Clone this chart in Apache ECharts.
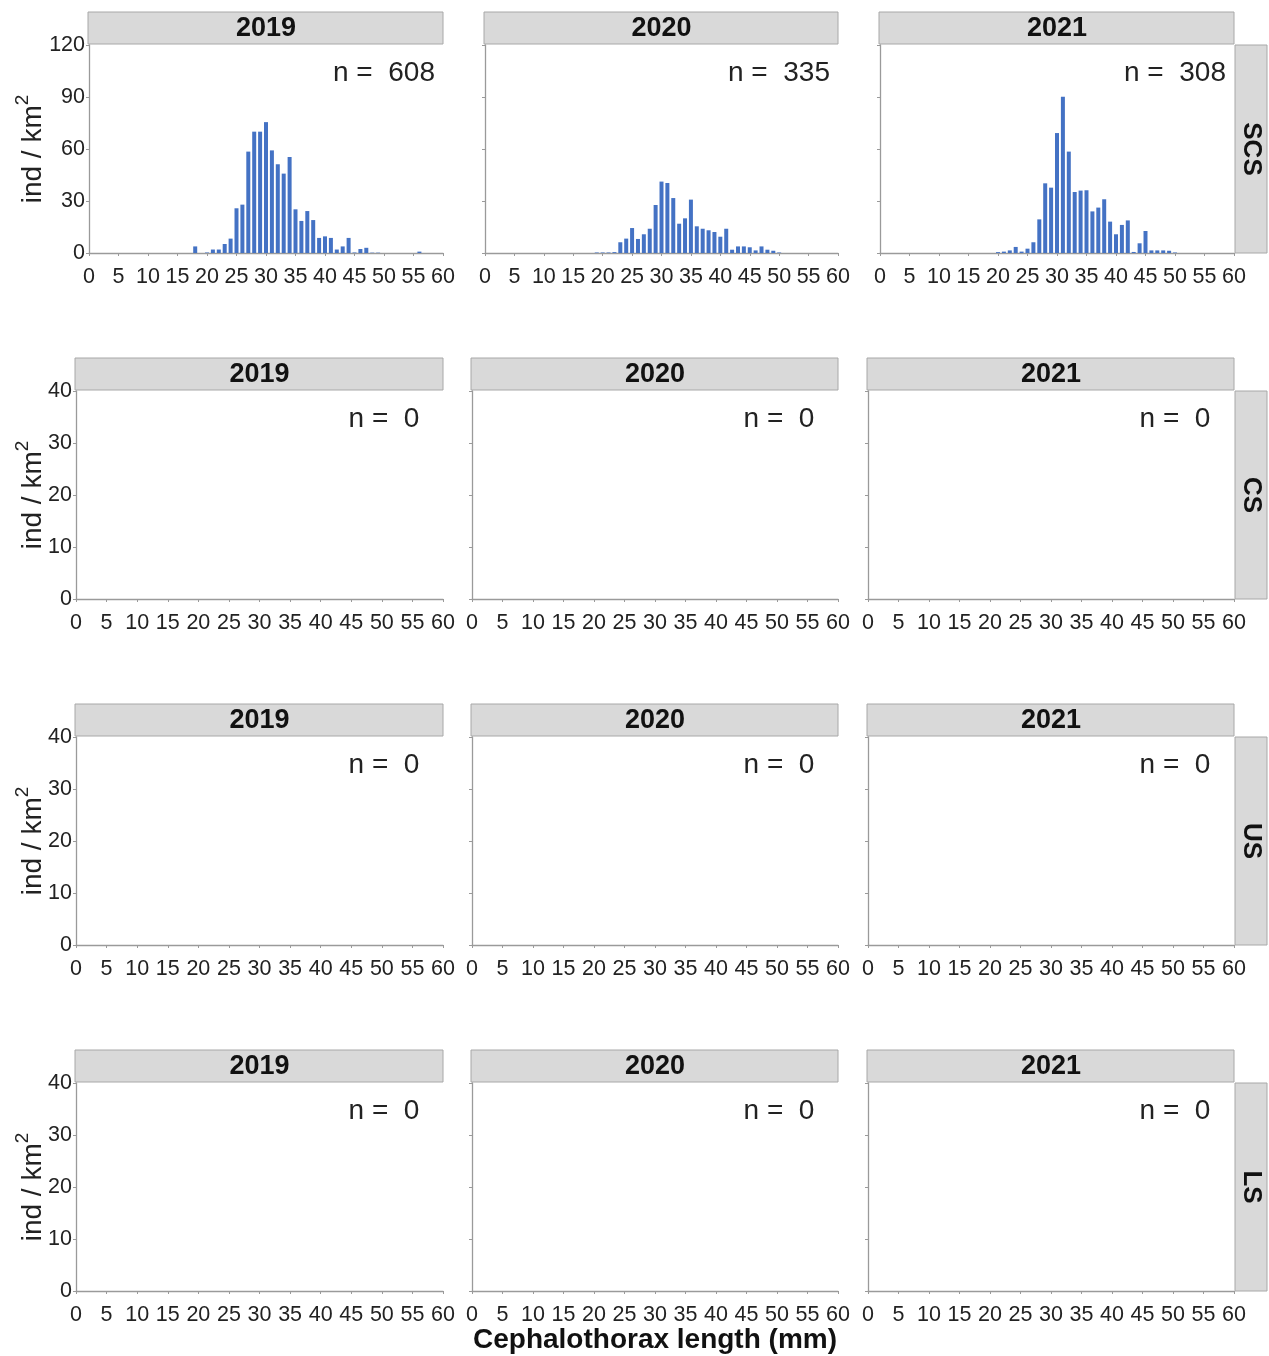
<!DOCTYPE html>
<html>
<head>
<meta charset="utf-8">
<script src="https://cdn.jsdelivr.net/npm/echarts@6/dist/echarts.min.js"></script>
<style>
html,body{margin:0;padding:0;background:#fff;}
#chart{width:1269px;height:1356px;}
</style>
</head>
<body>
<div id="chart"></div>
<script>
// ---- data ----
const years = ['2019', '2020', '2021'];
const regions = ['SCS', 'CS', 'US', 'LS'];
const lengthBins = [15,16,17,18,19,20,21,22,23,24,25,26,27,28,29,30,31,32,33,34,35,36,37,38,39,40,41,42,43,44,45,46,47,48,49,50,51,52,53,54,55,56,57];
const scs2019 = [0,0,0,3.8,0,0.3,2,2,5.2,8.3,25.8,27.9,58.5,70,70,75.5,59.2,51.2,45.8,55.4,25.2,18.5,24.2,19,8.7,9.6,8.7,2,3.8,8.7,0.3,2.3,3,0.2,0.2,0,0,0,0,0,0,0.8,0];
const scs2020 = [0,0,0,0,0.3,0.3,0.3,0.5,6.2,8.3,14.4,8.1,10.8,14,27.7,41.2,40.4,31.7,16.9,20,30.8,15.4,14,13.1,12.1,9.4,14,1.9,3.8,3.8,3.3,1.5,3.8,1.9,1.3,0.3,0,0,0,0,0,0,0];
const scs2021 = [0,0,0,0,0,0.5,0.8,1.5,3.5,0.8,2.5,6.2,19.4,40.2,37.7,69.2,90.2,58.5,35.2,36,36.2,24,26.2,31,18.1,10.8,16.2,18.8,0.6,5.6,12.7,1.5,1.5,1.5,1.3,0.3,0,0,0,0,0,0,0];
const csValues = [];   // no individuals
const usValues = [];
const lsValues = [];
const nSCS = [608, 335, 308];
const nCS = [0, 0, 0];
const nUS = [0, 0, 0];
const nLS = [0, 0, 0];
const xTicks = [0, 60, 5];          // min, max, interval (mm)
const yTicksSCS = [0, 120, 30];
const yTicksOther = [0, 40, 10];

const panelValues = [
  [scs2019, scs2020, scs2021],
  [csValues, csValues, csValues],
  [usValues, usValues, usValues],
  [lsValues, lsValues, lsValues]
];
const panelN = [nSCS, nCS, nUS, nLS];
const panelY = [yTicksSCS, yTicksOther, yTicksOther, yTicksOther];

// ---- layout ----
const FONT = '"Liberation Sans", Arial, sans-serif';
const rowTop = [45, 391, 737, 1083];
const plotH = 208;
const colLeft = [[89, 485, 880], [76, 472, 868], [76, 472, 868], [76, 472, 868]];
const colRight = [443, 838, 1234];
const stripH = 32;
const BLUE = '#4472C4';
const AXIS = '#9a9a9a';

const grids = [], xAxes = [], yAxes = [], series = [], graphics = [];
let idx = 0;
for (let r = 0; r < 4; r++) {
  for (let c = 0; c < 3; c++) {
    const left = colLeft[r][c], top = rowTop[r];
    const w = colRight[c] - left;
    grids.push({ left: left, top: top, width: w, height: plotH, containLabel: false });
    xAxes.push({
      type: 'value', gridIndex: idx, min: xTicks[0], max: xTicks[1], interval: xTicks[2],
      axisLine: { show: true, lineStyle: { color: AXIS, width: 1.3 } },
      axisTick: { show: true, length: 3, lineStyle: { color: AXIS } },
      splitLine: { show: false },
      axisLabel: { show: true, fontSize: 21.5, color: '#222', fontFamily: FONT, margin: 13, showMinLabel: true, showMaxLabel: true }
    });
    const yt = panelY[r];
    yAxes.push({
      type: 'value', gridIndex: idx, min: yt[0], max: yt[1], interval: yt[2],
      axisLine: { show: true, lineStyle: { color: AXIS, width: 1.3 } },
      axisTick: { show: true, length: 3, lineStyle: { color: AXIS } },
      splitLine: { show: false },
      axisLabel: { show: c === 0, fontSize: 21.5, color: '#222', fontFamily: FONT, margin: 4, showMinLabel: true, showMaxLabel: true }
    });
    const vals = panelValues[r][c];
    const data = [];
    for (let i = 0; i < vals.length; i++) {
      if (vals[i] > 0) data.push([lengthBins[i], vals[i]]);
    }
    series.push({
      type: 'bar', xAxisIndex: idx, yAxisIndex: idx, data: data,
      barWidth: 4, itemStyle: { color: BLUE }, silent: true, animation: false
    });
    // year strip
    graphics.push({
      type: 'rect', shape: { x: left - 1, y: top - stripH - 1, width: w + 1, height: stripH },
      style: { fill: '#d9d9d9', stroke: '#a8a8a8', lineWidth: 1 }
    });
    graphics.push({
      type: 'text', x: left + w / 2, y: top - stripH / 2,
      style: { text: years[c], font: 'bold 27px ' + FONT, fill: '#111', align: 'center', verticalAlign: 'middle' }
    });
    // n label
    graphics.push({
      type: 'text', x: left + w - 59, y: top + 28,
      style: { text: 'n =  ' + panelN[r][c], font: '28px ' + FONT, fill: '#222', align: 'center', verticalAlign: 'middle' }
    });
    idx++;
  }
  // region strip on the right
  graphics.push({
    type: 'rect', shape: { x: 1235, y: rowTop[r], width: 32, height: plotH },
    style: { fill: '#d9d9d9', stroke: '#a8a8a8', lineWidth: 1 }
  });
  graphics.push({
    type: 'text', x: 1251, y: rowTop[r] + plotH / 2, rotation: -Math.PI / 2,
    style: { text: regions[r], font: 'bold 26px ' + FONT, fill: '#111', align: 'center', verticalAlign: 'middle' }
  });
  // y axis title
  graphics.push({
    type: 'text', x: 30, y: rowTop[r] + plotH / 2, rotation: Math.PI / 2,
    style: {
      text: '{a|ind / km}{s|2}', align: 'center', verticalAlign: 'middle', fill: '#222',
      rich: {
        a: { font: '28px ' + FONT, fill: '#222', lineHeight: 34, verticalAlign: 'bottom' },
        s: { font: '19px ' + FONT, fill: '#222', lineHeight: 20, verticalAlign: 'top' }
      }
    }
  });
}
graphics.push({
  type: 'text', x: 655, y: 1340,
  style: { text: 'Cephalothorax length (mm)', font: 'bold 28px ' + FONT, fill: '#111', align: 'center', verticalAlign: 'middle' }
});

const chart = echarts.init(document.getElementById('chart'), null, { renderer: 'canvas' });
chart.setOption({
  animation: false,
  backgroundColor: '#fff',
  grid: grids,
  xAxis: xAxes,
  yAxis: yAxes,
  series: series,
  graphic: graphics
});
</script>
</body>
</html>
